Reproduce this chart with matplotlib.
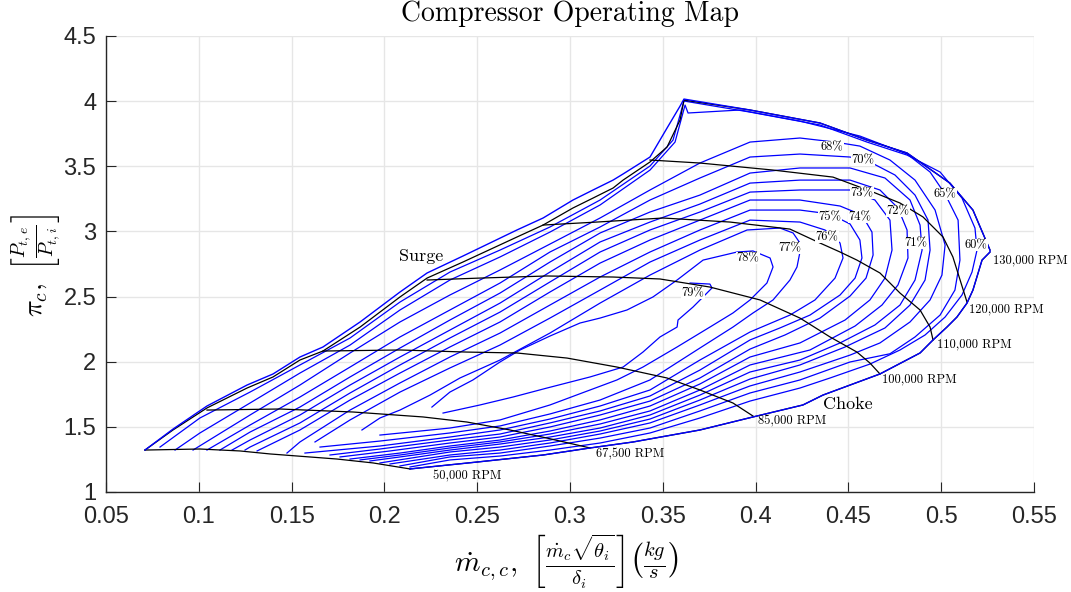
import matplotlib
matplotlib.use("Agg")
import matplotlib.pyplot as plt

plt.rcParams['mathtext.fontset'] = 'cm'
plt.rcParams['axes.unicode_minus'] = False

# ---------------------------------------------------------------------------
# Speed lines: corrected mass flow [kg/s] vs total pressure ratio
# ---------------------------------------------------------------------------
speed_50k = [(0.0710, 1.322), (0.1006, 1.330), (0.1222, 1.315), (0.1384, 1.292),
             (0.1745, 1.253), (0.1939, 1.223), (0.2138, 1.177)]
speed_67k = [(0.1044, 1.629), (0.1438, 1.637), (0.1831, 1.614), (0.2208, 1.576),
             (0.2445, 1.537), (0.2677, 1.476), (0.2876, 1.414), (0.3108, 1.338)]
speed_85k = [(0.1669, 2.082), (0.2084, 2.090), (0.2445, 2.074), (0.2714, 2.067),
             (0.2984, 2.028), (0.3253, 1.959), (0.3523, 1.875), (0.3700, 1.783),
             (0.3878, 1.683), (0.3986, 1.583)]
speed_100k = [(0.2230, 2.627), (0.2515, 2.642), (0.2876, 2.658), (0.3232, 2.650),
              (0.3485, 2.635), (0.3754, 2.573), (0.4024, 2.474), (0.4239, 2.335),
              (0.4401, 2.190), (0.4546, 2.074), (0.4616, 1.990), (0.4670, 1.906)]
speed_110k = [(0.2855, 3.049), (0.3145, 3.072), (0.3501, 3.103), (0.3862, 3.072),
              (0.4185, 3.018), (0.4347, 2.911), (0.4455, 2.842), (0.4546, 2.780),
              (0.4670, 2.681), (0.4778, 2.527), (0.4886, 2.397), (0.4940, 2.266),
              (0.4956, 2.167)]
speed_120k = [(0.3431, 3.548), (0.3700, 3.525), (0.4094, 3.471), (0.4417, 3.417),
              (0.4633, 3.302), (0.4778, 3.218), (0.4902, 3.111), (0.5010, 2.957),
              (0.5063, 2.804), (0.5139, 2.458)]
speed_130k = [(0.3614, 4.008), (0.3970, 3.932), (0.4347, 3.832), (0.4600, 3.701),
              (0.4816, 3.602), (0.5047, 3.371), (0.5171, 3.164), (0.5263, 2.857)]

surge_line = [(0.0710, 1.322), (0.0861, 1.476), (0.1044, 1.645), (0.1260, 1.798),
              (0.1400, 1.883), (0.1545, 2.013), (0.1669, 2.082), (0.1869, 2.266),
              (0.2084, 2.497), (0.2230, 2.642), (0.2423, 2.765), (0.2714, 2.957),
              (0.2855, 3.049), (0.3016, 3.180), (0.3124, 3.256), (0.3232, 3.333),
              (0.3286, 3.394), (0.3431, 3.533), (0.3523, 3.648), (0.3593, 3.855),
              (0.3614, 4.008)]
choke_line = [(0.2138, 1.177), (0.2499, 1.230), (0.2855, 1.284), (0.3108, 1.338),
              (0.3340, 1.384), (0.3700, 1.476), (0.3986, 1.576), (0.4255, 1.668),
              (0.4363, 1.744), (0.4670, 1.906), (0.4886, 2.067), (0.4956, 2.167),
              (0.5031, 2.266), (0.5085, 2.343), (0.5139, 2.450), (0.5171, 2.550),
              (0.5220, 2.780), (0.5263, 2.842)]

# Outer edge of the efficiency data (surge side, top, choke side)
map_edge_surge = [(0.0710, 1.322), (0.0861, 1.483), (0.1044, 1.660), (0.1260, 1.821),
                  (0.1400, 1.906), (0.1545, 2.036), (0.1669, 2.113), (0.1869, 2.305),
                  (0.2084, 2.535), (0.2230, 2.681), (0.2423, 2.811), (0.2714, 3.011),
                  (0.2855, 3.103), (0.3016, 3.241), (0.3124, 3.318), (0.3232, 3.394),
                  (0.3286, 3.441), (0.3431, 3.571), (0.3523, 3.794), (0.3593, 3.962),
                  (0.3614, 4.016)]

# ---------------------------------------------------------------------------
# Isentropic efficiency contours
# ---------------------------------------------------------------------------
eff_79 = [(0.2316, 1.606), (0.2515, 1.668), (0.2693, 1.729), (0.2876, 1.798),
          (0.3108, 1.883), (0.3286, 1.959), (0.3393, 2.074), (0.3485, 2.190),
          (0.3577, 2.266), (0.3582, 2.320), (0.3663, 2.420), (0.3717, 2.497),
          (0.3765, 2.566), (0.3754, 2.596), (0.3647, 2.604)]
eff_78 = [(0.2256, 1.652), (0.2353, 1.767), (0.2477, 1.860), (0.2623, 1.998),
          (0.2731, 2.090), (0.2892, 2.197), (0.3054, 2.297), (0.3162, 2.335),
          (0.3307, 2.397), (0.3447, 2.497), (0.3577, 2.627), (0.3717, 2.780),
          (0.3900, 2.842), (0.3986, 2.850), (0.4078, 2.796), (0.4094, 2.727),
          (0.4061, 2.604), (0.3970, 2.474), (0.3878, 2.374), (0.3754, 2.266),
          (0.3577, 2.113), (0.3393, 1.959), (0.3253, 1.860), (0.3108, 1.783),
          (0.2892, 1.668), (0.2623, 1.553), (0.2353, 1.491), (0.2138, 1.460),
          (0.1976, 1.437)]
eff_77 = [(0.1879, 1.476), (0.1976, 1.568), (0.2084, 1.629), (0.2246, 1.744),
          (0.2407, 1.875), (0.2623, 2.013), (0.2892, 2.220), (0.3162, 2.450),
          (0.3431, 2.665), (0.3700, 2.857), (0.3954, 3.011), (0.4131, 3.026),
          (0.4202, 2.988), (0.4239, 2.911), (0.4239, 2.842), (0.4223, 2.727),
          (0.4185, 2.627), (0.4094, 2.474), (0.3986, 2.374), (0.3878, 2.266),
          (0.3700, 2.105), (0.3431, 1.860), (0.3162, 1.706), (0.2892, 1.599),
          (0.2623, 1.507), (0.2353, 1.453), (0.1976, 1.391), (0.1653, 1.345)]
eff_76 = [(0.1626, 1.384), (0.1815, 1.553), (0.2084, 1.767), (0.2353, 1.952),
          (0.2623, 2.128), (0.2892, 2.335), (0.3162, 2.550), (0.3431, 2.765),
          (0.3700, 2.934), (0.3970, 3.087), (0.4239, 3.072), (0.4374, 3.011),
          (0.4455, 2.911), (0.4471, 2.796), (0.4428, 2.642), (0.4320, 2.474),
          (0.4185, 2.358), (0.3970, 2.228), (0.3700, 2.013), (0.3431, 1.783),
          (0.3162, 1.660), (0.2892, 1.560), (0.2623, 1.476), (0.2353, 1.422),
          (0.1976, 1.353), (0.1572, 1.299)]
eff_75 = [(0.1475, 1.299), (0.1545, 1.384), (0.1815, 1.629), (0.2084, 1.837),
          (0.2353, 2.036), (0.2623, 2.220), (0.2892, 2.435), (0.3162, 2.650),
          (0.3431, 2.842), (0.3700, 3.011), (0.3970, 3.164), (0.4239, 3.164),
          (0.4401, 3.134), (0.4509, 3.057), (0.4562, 2.934), (0.4573, 2.796),
          (0.4536, 2.642), (0.4455, 2.512), (0.4293, 2.358), (0.4131, 2.259),
          (0.3970, 2.167), (0.3700, 1.936), (0.3431, 1.737), (0.3162, 1.622),
          (0.2892, 1.530), (0.2623, 1.445), (0.2353, 1.399), (0.1976, 1.330),
          (0.1707, 1.284)]
eff_74 = [(0.1314, 1.315), (0.1545, 1.476), (0.1815, 1.706), (0.2084, 1.913),
          (0.2353, 2.113), (0.2623, 2.305), (0.2892, 2.535), (0.3162, 2.757),
          (0.3431, 2.934), (0.3700, 3.087), (0.3970, 3.241), (0.4239, 3.241),
          (0.4455, 3.195), (0.4573, 3.126), (0.4627, 2.995), (0.4633, 2.819),
          (0.4595, 2.642), (0.4509, 2.504), (0.4347, 2.335), (0.4158, 2.205),
          (0.3970, 2.097), (0.3700, 1.875), (0.3431, 1.698), (0.3162, 1.591),
          (0.2892, 1.499), (0.2623, 1.422), (0.2353, 1.376), (0.2030, 1.315),
          (0.1761, 1.269)]
eff_73 = [(0.1249, 1.322), (0.1276, 1.345), (0.1545, 1.530), (0.1815, 1.760),
          (0.2084, 1.975), (0.2353, 2.182), (0.2623, 2.381), (0.2892, 2.612),
          (0.3162, 2.842), (0.3431, 3.011), (0.3700, 3.149), (0.3970, 3.302),
          (0.4239, 3.318), (0.4509, 3.318), (0.4643, 3.241), (0.4724, 3.087),
          (0.4735, 2.857), (0.4697, 2.642), (0.4616, 2.474), (0.4482, 2.320),
          (0.4239, 2.144), (0.3970, 2.036), (0.3700, 1.829), (0.3431, 1.660),
          (0.3162, 1.553), (0.2892, 1.468), (0.2623, 1.399), (0.2353, 1.353),
          (0.2084, 1.299), (0.1815, 1.253)]
eff_72 = [(0.1179, 1.322), (0.1276, 1.399), (0.1545, 1.591), (0.1815, 1.821),
          (0.2084, 2.036), (0.2353, 2.243), (0.2623, 2.450), (0.2892, 2.688),
          (0.3162, 2.919), (0.3431, 3.072), (0.3700, 3.210), (0.3970, 3.371),
          (0.4239, 3.394), (0.4509, 3.394), (0.4670, 3.318), (0.4767, 3.180),
          (0.4816, 3.011), (0.4821, 2.796), (0.4767, 2.589), (0.4681, 2.435),
          (0.4536, 2.274), (0.4293, 2.090), (0.3970, 1.975), (0.3700, 1.783),
          (0.3431, 1.622), (0.3162, 1.522), (0.2892, 1.445), (0.2623, 1.384),
          (0.2353, 1.338), (0.2084, 1.284), (0.1869, 1.246)]
eff_71 = [(0.1114, 1.322), (0.1276, 1.460), (0.1545, 1.652), (0.1815, 1.883),
          (0.2084, 2.105), (0.2353, 2.320), (0.2623, 2.527), (0.2892, 2.765),
          (0.3162, 2.988), (0.3431, 3.149), (0.3700, 3.279), (0.3970, 3.448),
          (0.4239, 3.487), (0.4509, 3.487), (0.4697, 3.410), (0.4832, 3.241),
          (0.4886, 3.049), (0.4897, 2.857), (0.4859, 2.627), (0.4778, 2.435),
          (0.4643, 2.282), (0.4455, 2.144), (0.4239, 2.013), (0.3970, 1.921),
          (0.3700, 1.744), (0.3431, 1.591), (0.3162, 1.491), (0.2892, 1.422),
          (0.2623, 1.368), (0.2353, 1.322), (0.2084, 1.269), (0.1922, 1.238)]
eff_70 = [(0.1044, 1.322), (0.1276, 1.514), (0.1545, 1.729), (0.1815, 1.959),
          (0.2084, 2.190), (0.2353, 2.397), (0.2623, 2.604), (0.2892, 2.842),
          (0.3162, 3.034), (0.3431, 3.241), (0.3700, 3.410), (0.3970, 3.571),
          (0.4239, 3.594), (0.4509, 3.571), (0.4616, 3.533), (0.4751, 3.433),
          (0.4859, 3.279), (0.4929, 3.087), (0.4940, 2.857), (0.4913, 2.627),
          (0.4832, 2.435), (0.4697, 2.259), (0.4482, 2.113), (0.4239, 1.975),
          (0.3970, 1.867), (0.3700, 1.706), (0.3431, 1.560), (0.3162, 1.468),
          (0.2892, 1.399), (0.2623, 1.345), (0.2353, 1.307), (0.1976, 1.223)]
eff_68 = [(0.0969, 1.322), (0.1276, 1.591), (0.1545, 1.821), (0.1815, 2.067),
          (0.2084, 2.305), (0.2353, 2.512), (0.2623, 2.704), (0.2892, 2.903),
          (0.3162, 3.103), (0.3431, 3.318), (0.3700, 3.525), (0.3970, 3.686),
          (0.4239, 3.717), (0.4428, 3.686), (0.4562, 3.655), (0.4724, 3.548),
          (0.4859, 3.394), (0.4967, 3.164), (0.5021, 2.896), (0.5004, 2.665),
          (0.4940, 2.474), (0.4832, 2.305), (0.4670, 2.144), (0.4509, 2.051),
          (0.4239, 1.921), (0.3970, 1.814), (0.3700, 1.668), (0.3431, 1.530),
          (0.3162, 1.445), (0.2892, 1.376), (0.2623, 1.322), (0.2353, 1.284),
          (0.2030, 1.215)]
eff_65 = [(0.0872, 1.322), (0.1006, 1.453), (0.1276, 1.683), (0.1545, 1.913),
          (0.1815, 2.128), (0.2084, 2.397), (0.2353, 2.627), (0.2623, 2.804),
          (0.2892, 2.995), (0.3162, 3.203), (0.3431, 3.471), (0.3566, 3.686),
          (0.3620, 3.970), (0.3636, 3.909), (0.3916, 3.932), (0.4239, 3.847),
          (0.4562, 3.732), (0.4816, 3.594), (0.4940, 3.456), (0.5021, 3.287),
          (0.5091, 3.087), (0.5101, 2.780), (0.5074, 2.550), (0.4994, 2.358),
          (0.4859, 2.190), (0.4724, 2.061), (0.4509, 1.998), (0.4239, 1.860),
          (0.3970, 1.760), (0.3700, 1.622), (0.3431, 1.491), (0.3162, 1.414),
          (0.2892, 1.353), (0.2623, 1.299), (0.2353, 1.269), (0.2084, 1.200)]
eff_60 = [(0.0791, 1.345), (0.1006, 1.568), (0.1276, 1.767), (0.1545, 1.975),
          (0.1815, 2.182), (0.2084, 2.458), (0.2353, 2.688), (0.2623, 2.857),
          (0.2892, 3.034), (0.3162, 3.241), (0.3431, 3.502), (0.3555, 3.701),
          (0.3614, 4.001), (0.3970, 3.916), (0.4347, 3.817), (0.4600, 3.686),
          (0.4816, 3.586), (0.4994, 3.456), (0.5112, 3.256), (0.5182, 3.026),
          (0.5193, 2.857), (0.5166, 2.688), (0.5112, 2.512), (0.5021, 2.343),
          (0.4913, 2.205), (0.4778, 2.090), (0.4616, 1.982), (0.4401, 1.875),
          (0.4239, 1.798), (0.3970, 1.698), (0.3700, 1.568), (0.3431, 1.453),
          (0.3162, 1.376), (0.2892, 1.322), (0.2623, 1.276), (0.2353, 1.246),
          (0.2138, 1.192)]

eff_labels = ["60%", "65%", "68%", "70%", "71%", "72%", "73%", "74%",
              "75%", "76%", "77%", "78%", "79%"]
eff_label_x = [0.5188, 0.5021, 0.4412, 0.4579, 0.4864, 0.4767, 0.4573, 0.4562,
               0.4401, 0.4385, 0.4185, 0.3959, 0.3663]
eff_label_y = [2.896, 3.287, 3.648, 3.548, 2.911, 3.157, 3.295, 3.111,
               3.111, 2.957, 2.873, 2.796, 2.527]

speed_labels = ["50,000 RPM", "67,500 RPM", "85,000 RPM", "100,000 RPM",
                "110,000 RPM", "120,000 RPM", "130,000 RPM"]
speed_label_x = [0.2262, 0.3140, 0.4013, 0.4681, 0.4977, 0.5150, 0.5279]
speed_label_y = [1.123, 1.292, 1.545, 1.867, 2.136, 2.404, 2.780]

x_ticks = [0.05, 0.10, 0.15, 0.20, 0.25, 0.30, 0.35, 0.40, 0.45, 0.50, 0.55]
x_tick_labels = ["0.05", "0.1", "0.15", "0.2", "0.25", "0.3", "0.35", "0.4",
                 "0.45", "0.5", "0.55"]
y_ticks = [1.0, 1.5, 2.0, 2.5, 3.0, 3.5, 4.0, 4.5]
y_tick_labels = ["1", "1.5", "2", "2.5", "3", "3.5", "4", "4.5"]

# ---------------------------------------------------------------------------
W, H = 1071, 592
fig = plt.figure(figsize=(W / 100, H / 100), dpi=100)
ax = fig.add_axes([106 / W, 100 / H, 928 / W, 456 / H])

BLUE = "#0000ff"
INK = "#262626"
SERIF = "cmr10"

contours = [eff_60, eff_65, eff_68, eff_70, eff_71, eff_72, eff_73, eff_74,
            eff_75, eff_76, eff_77, eff_78, eff_79]
for line in contours:
    xs, ys = zip(*line)
    ax.plot(xs, ys, color=BLUE, lw=0.9, zorder=2)

for line in [speed_50k, speed_67k, speed_85k, speed_100k, speed_110k,
             speed_120k, speed_130k, surge_line, choke_line]:
    xs, ys = zip(*line)
    ax.plot(xs, ys, color="black", lw=0.9, zorder=3)

# blue outline of the map: surge side, top (130k) and choke side
edge = map_edge_surge + speed_130k[1:] + choke_line[::-1]
xs, ys = zip(*edge)
ax.plot(xs, ys, color=BLUE, lw=1.0, zorder=4)

for txt, x, y in zip(eff_labels, eff_label_x, eff_label_y):
    ax.text(x, y, txt, fontfamily=SERIF, fontsize=9, ha="center", va="center",
            zorder=5, bbox=dict(facecolor="white", edgecolor="none", pad=0.3))

for txt, x, y in zip(speed_labels, speed_label_x, speed_label_y):
    ax.text(x, y, txt, fontfamily=SERIF, fontsize=9, ha="left", va="center",
            zorder=5)

ax.text(0.2197, 2.811, "Surge", fontfamily=SERIF, fontsize=13,
        ha="center", va="center", zorder=5)
ax.text(0.4498, 1.675, "Choke", fontfamily=SERIF, fontsize=13,
        ha="center", va="center", zorder=5)

ax.set_xlim(0.05, 0.55)
ax.set_ylim(1.0, 4.5)
ax.set_xticks(x_ticks)
ax.set_xticklabels(x_tick_labels)
ax.set_yticks(y_ticks)
ax.set_yticklabels(y_tick_labels)
for lab in ax.get_xticklabels() + ax.get_yticklabels():
    lab.set_fontfamily("Liberation Sans")
ax.tick_params(direction="in", length=7, width=0.8, colors=INK, labelsize=17)
ax.tick_params(axis="x", pad=10)
ax.tick_params(axis="y", pad=7)
ax.grid(True, color="#e6e6e6", linewidth=1.0)
ax.set_axisbelow(True)
for side in ("top", "right"):
    ax.spines[side].set_visible(False)
for side in ("left", "bottom"):
    ax.spines[side].set_color(INK)
    ax.spines[side].set_linewidth(1.0)

fig.text(570 / W, 1 - 14 / H, "Compressor Operating Map", fontfamily=SERIF,
         fontsize=20, ha="center", va="center")
fig.text(566 / W, 1 - 561 / H,
         r"$\dot{m}_{c,c},\ \left[\frac{\dot{m}_c\sqrt{\theta_i}}{\delta_i}\right]"
         r"\left(\frac{kg}{s}\right)$",
         fontsize=21, ha="center", va="center")
fig.text(36 / W, 1 - 266 / H,
         r"$\pi_c,\ \left[\frac{P_{t,e}}{P_{t,i}}\right]$",
         fontsize=20, ha="center", va="center", rotation=90)

fig.savefig("out.png", dpi=100, facecolor="white")
